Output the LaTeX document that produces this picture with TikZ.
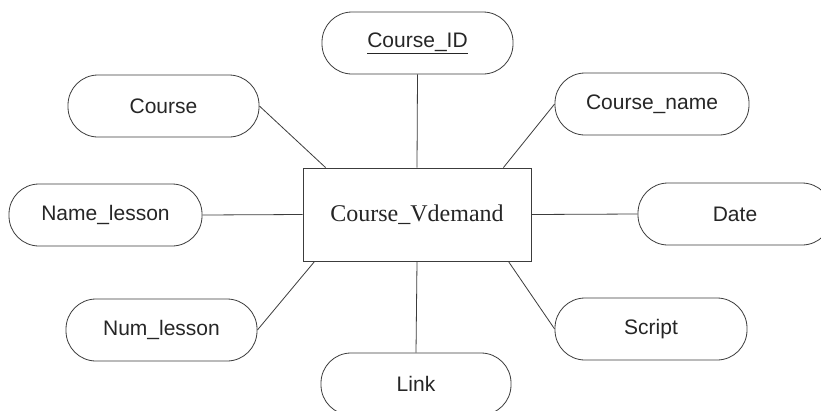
\documentclass[tikz,border=0pt]{standalone}
\usepackage{fontspec}
\setmainfont{Liberation Serif}
\setsansfont{Liberation Sans}
\usetikzlibrary{positioning}
\definecolor{erline}{RGB}{60, 60, 60}

\begin{document}
\begin{tikzpicture}[
      x=1pt, y=-1pt,
      attr/.style={draw=erline, line width=0.8pt, rounded corners=30pt,
                   minimum width=191pt, minimum height=62pt,
                   inner sep=0pt, font=\sffamily\fontsize{21}{24}\selectfont,
                   text=black!85, anchor=center},
      entity/.style={draw=erline, line width=0.8pt,
                     minimum width=228pt, minimum height=93pt,
                     inner sep=0pt, font=\rmfamily\fontsize{24}{28}\selectfont,
                     text=black!85, anchor=center},
      link/.style={draw=erline, line width=0.8pt},
    ]
    %% page frame
    \useasboundingbox[fill=white] (0,0) rectangle (821,410);
    %% entity in the middle
    \node[entity] (vod) at (417,214.5) {Course\_Vdemand};
    %% attributes, top to bottom
    \node[attr] (cid) at (417.5,43) {\underline{Course\_ID}};
    \node[attr] (course) at (163.5,106) {Course};
    \node[attr, minimum width=194pt] (cname) at (652,104) {Course\_name};
    \node[attr, minimum width=193pt] (lname) at (105.5,215) {Name\_lesson};
    \node[attr, minimum width=194pt] (date) at (735,214) {Date};
    \node[attr] (lnum) at (161.5,330) {Num\_lesson};
    \node[attr, minimum width=192pt] (script) at (651,329) {Script};
    \node[attr, minimum width=190pt] (lk) at (416,384) {Link};
    %% connectors
    \draw[link] (cid.south) -- (vod.north);
    \draw[link] (course.east) -- ([xshift=23pt]vod.north west);
    \draw[link] (cname.west) -- ([xshift=-28pt]vod.north east);
    \draw[link] (lname.east) -- (vod.west);
    \draw[link] (date.west) -- (vod.east);
    \draw[link] (lnum.east) -- ([xshift=12pt]vod.south west);
    \draw[link] (script.west) -- ([xshift=-23pt]vod.south east);
    \draw[link] (lk.north) -- (vod.south);
    \end{tikzpicture}
\end{document}
